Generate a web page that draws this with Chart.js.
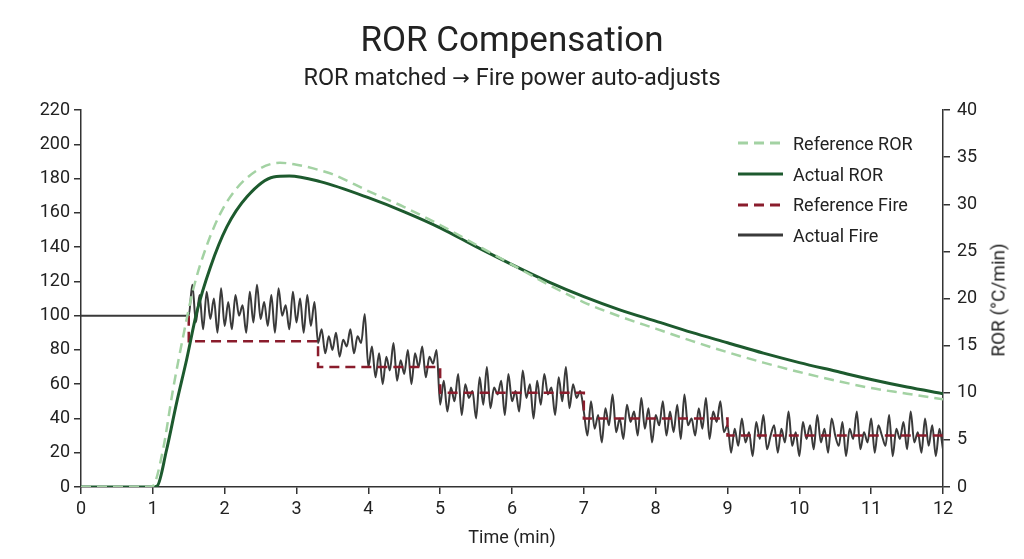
<!DOCTYPE html>
<html lang="en">
<head>
  <meta charset="UTF-8">
  <title>ROR Compensation</title>
  <script src="https://cdn.jsdelivr.net/npm/chart.js"></script>
  <style>
    html, body {
      margin: 0;
      padding: 0;
      background: #fff;
      font-family: Roboto, 'Noto Sans', sans-serif;
    }

    .chart-container {
      position: relative;
      width: 1024px;
      height: 559px;
    }

    .head {
      position: absolute;
      left: 0;
      width: 1024px;
      text-align: center;
      color: #222;
      white-space: nowrap;
    }

    .head.title {
      top: 19px;
      font-size: 35px;
      line-height: 42px;
    }

    .head.sub {
      top: 64px;
      font-size: 23.5px;
      line-height: 26px;
    }

    .head .arrow {
      font-family: 'DejaVu Sans', sans-serif;
      font-size: 21px;
    }

    .legend {
      position: absolute;
      left: 738px;
      top: 128px;
      color: #222;
      font-size: 18px;
    }

    .legend div {
      display: flex;
      align-items: center;
      height: 30.7px;
    }

    .legend svg {
      margin-right: 10px;
    }

    .y2-title {
      position: absolute;
      left: 998px;
      top: 300px;
      transform: translate(-50%, -50%) rotate(-90deg);
      white-space: nowrap;
      font-size: 19px;
      color: #222;
    }
  </style>
</head>
<body>
  <div class="chart-container">
    <canvas id="rorChart"></canvas>
    <div class="head title">ROR Compensation</div>
    <div class="head sub">ROR matched <span class="arrow">→</span> Fire power auto-adjusts</div>
    <div class="legend">
      <div><svg width="45" height="4"><line x1="0" y1="2" x2="45" y2="2" stroke="#a3d2a3" stroke-width="3" stroke-dasharray="10 6"/></svg>Reference ROR</div>
      <div><svg width="45" height="4"><line x1="0" y1="2" x2="45" y2="2" stroke="#1d5a2e" stroke-width="3"/></svg>Actual ROR</div>
      <div><svg width="45" height="4"><line x1="0" y1="2" x2="45" y2="2" stroke="#8a1c2c" stroke-width="3" stroke-dasharray="10 6"/></svg>Reference Fire</div>
      <div><svg width="45" height="4"><line x1="0" y1="2" x2="45" y2="2" stroke="#3a3a3a" stroke-width="3"/></svg>Actual Fire</div>
    </div>
    <div class="y2-title">ROR (°C/min)</div>
  </div>

<script>
  // ROR curves (°C/min, right axis)
  const refRorTimes = [0, 0.95, 1.0, 1.14, 1.28, 1.42, 1.56, 1.75, 1.98, 2.31, 2.77, 3.0, 3.33, 3.5, 4, 4.5, 5, 5.5, 6, 6.5, 7, 7.5, 8, 8.5, 9, 9.5, 10, 10.5, 11, 11.5, 12];
  const refRorValues = [0, 0, 0.1, 3.9, 10.3, 15.9, 20.9, 25.6, 29.6, 32.8, 34.4, 34.2, 33.6, 33.2, 31.4, 29.7, 27.8, 25.7, 23.6, 21.5, 19.6, 18.1, 16.8, 15.5, 14.3, 13.2, 12.2, 11.3, 10.5, 9.9, 9.3];

  const actRorTimes = [0, 1.0, 1.06, 1.19, 1.33, 1.47, 1.61, 1.8, 2.03, 2.31, 2.68, 2.9, 3.33, 4, 4.5, 5, 5.5, 6, 6.5, 7, 7.5, 8, 8.5, 9, 9.5, 10, 10.5, 11, 11.5, 12];
  const actRorValues = [0, 0, 0.1, 3.9, 8.9, 13.5, 18.5, 23.3, 27.6, 30.8, 32.9, 33.0, 32.4, 30.7, 29.2, 27.5, 25.5, 23.6, 21.8, 20.2, 18.8, 17.6, 16.4, 15.3, 14.2, 13.2, 12.3, 11.4, 10.6, 9.9];

  // Fire power (%, left axis); setpoint steps start at 1.5 min
  const refFireTimes = [1.5, 1.5, 3.3, 5, 7, 9, 12];
  const refFireValues = [100, 85, 70, 55, 40, 30, 30];

  // actual fire: flat 100 until 1.5 min, then sampled every 0.05 min
  const fireStart = 1.5;
  const fireStep = 0.05;
  const actFireValues = [
    100, 118, 96, 112, 92, 114, 98, 110, 90, 116, 94, 108, 92, 112, 100, 106, 90, 114, 96, 118,
    98, 108, 94, 112, 90, 116, 100, 106, 92, 114, 96, 110, 90, 112, 94, 108,
    84, 92, 78, 88, 80, 90, 76, 86, 82, 92, 78, 88, 84, 101,
    70, 82, 64, 78, 60, 76, 68, 84, 62, 74, 66, 80, 60, 78, 70, 82, 64, 76, 72, 80,
    48, 62, 44, 58, 50, 66, 42, 60, 52, 56, 40, 64, 48, 70, 46, 58, 54, 62, 42, 66,
    50, 56, 44, 68, 52, 60, 40, 62, 48, 66, 54, 58, 42, 64, 50, 70, 46, 60, 52, 56,
    44, 30, 50, 34, 42, 26, 46, 36, 54, 32, 40, 28, 48, 38, 44, 30, 52, 34, 46, 26,
    42, 36, 50, 30, 44, 32, 48, 28, 54, 36, 40, 30, 46, 34, 52, 28, 44, 38, 50, 32,
    36, 20, 34, 24, 40, 26, 32, 18, 38, 28, 42, 22, 30, 36, 20, 34, 26, 44, 24, 32,
    18, 38, 28, 36, 22, 42, 26, 34, 20, 40, 30, 24, 38, 18, 34, 28, 44, 22, 32, 26,
    40, 20, 36, 30, 24, 42, 18, 34, 28, 38, 22, 44, 26, 32, 20, 40, 24, 36, 18, 34, 22
  ];

  const xTicks = [0, 1, 2, 3, 4, 5, 6, 7, 8, 9, 10, 11, 12];

  const pts = (xs, ys) => xs.map((x, i) => ({ x, y: ys[i] }));
  const actFire = [{ x: 0, y: 100 }, ...actFireValues.map((v, i) => ({ x: +(fireStart + i * fireStep).toFixed(2), y: v }))];

  const axisColor = '#333';
  const tickFont = { family: 'Roboto', size: 18 };

  const ctx = document.getElementById('rorChart').getContext('2d');

  new Chart(ctx, {
    type: 'line',
    data: {
      datasets: [
        {
          label: 'Reference ROR',
          data: pts(refRorTimes, refRorValues),
          yAxisID: 'y2',
          borderColor: '#a3d2a3',
          borderWidth: 2.5,
          borderDash: [10, 6],
          cubicInterpolationMode: 'monotone',
          pointRadius: 0
        },
        {
          label: 'Actual ROR',
          data: pts(actRorTimes, actRorValues),
          yAxisID: 'y2',
          borderColor: '#1d5a2e',
          borderWidth: 3,
          cubicInterpolationMode: 'monotone',
          pointRadius: 0
        },
        {
          label: 'Reference Fire',
          data: pts(refFireTimes, refFireValues),
          yAxisID: 'y',
          borderColor: '#8a1c2c',
          borderWidth: 2.5,
          borderDash: [10, 6],
          stepped: true,
          pointRadius: 0
        },
        {
          label: 'Actual Fire',
          data: actFire,
          yAxisID: 'y',
          borderColor: '#3a3a3a',
          borderWidth: 2,
          cubicInterpolationMode: 'monotone',
          pointRadius: 0
        }
      ]
    },
    options: {
      responsive: true,
      maintainAspectRatio: false,
      animation: false,
      layout: { padding: { top: 110 } },
      plugins: {
        legend: { display: false },
        tooltip: { enabled: false }
      },
      scales: {
        x: {
          type: 'linear',
          min: 0,
          max: 12,
          afterBuildTicks: s => { s.ticks = xTicks.map(v => ({ value: v })); },
          afterFit: s => { s.height = 72; },
          ticks: { color: '#222', font: tickFont, padding: 5, maxRotation: 0 },
          grid: { drawOnChartArea: false, tickLength: 7, color: axisColor, lineWidth: 1.5 },
          border: { color: axisColor, width: 1.5 },
          title: {
            display: true,
            text: 'Time (min)',
            color: '#222',
            font: { family: 'Roboto', size: 18 },
            padding: { top: 0, bottom: 10 }
          }
        },
        y: {
          position: 'left',
          min: 0,
          max: 220,
          afterFit: s => { s.width = 81; },
          ticks: { stepSize: 20, color: '#222', font: tickFont, padding: 4 },
          grid: { drawOnChartArea: false, tickLength: 7, color: axisColor, lineWidth: 1.5 },
          border: { color: axisColor, width: 1.5 }
        },
        y2: {
          position: 'right',
          min: 0,
          max: 40,
          afterFit: s => { s.width = 81; },
          ticks: { stepSize: 5, color: '#222', font: tickFont, padding: 7 },
          grid: { drawOnChartArea: false, tickLength: 7, color: axisColor, lineWidth: 1.5 },
          border: { color: axisColor, width: 1.5 }
        }
      }
    }
  });
</script>

</body>
</html>
